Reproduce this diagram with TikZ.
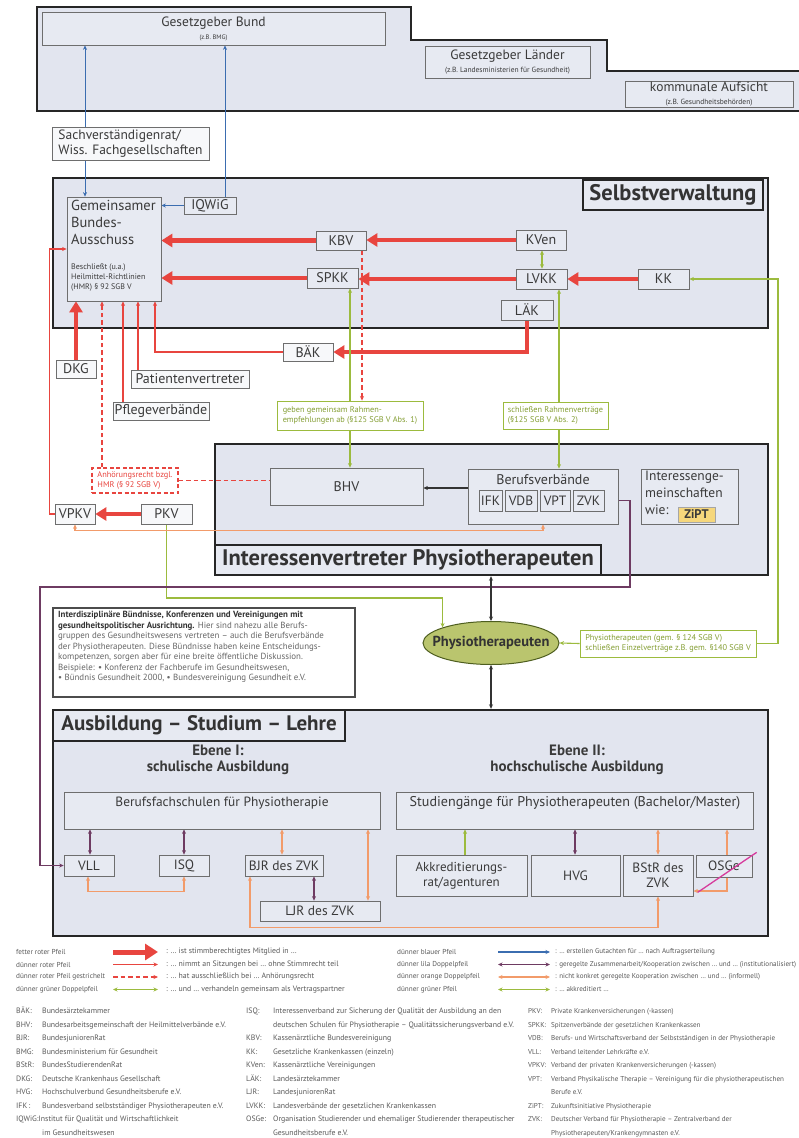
\documentclass[tikz,border=0pt]{standalone}
\usepackage{fontspec}
\setmainfont{PT Sans}
\usetikzlibrary{arrows.meta,shapes.geometric}
\definecolor{regfill}{HTML}{E2E5EF}
\definecolor{boxfill}{HTML}{E7EAF2}
\definecolor{boxline}{HTML}{6E6E6E}
\definecolor{txt}{HTML}{3A3A3A}
\definecolor{rd}{HTML}{E8453F}
\definecolor{gr}{HTML}{9CBB3E}
\definecolor{bl}{HTML}{3B6DB0}
\definecolor{pu}{HTML}{6E3B62}
\definecolor{og}{HTML}{F29B6A}
\definecolor{mg}{HTML}{D63B9C}
\definecolor{elfill}{HTML}{BAC56E}
\definecolor{yel}{HTML}{F6D77C}
\pgfdeclarelayer{bg}
\pgfdeclarelayer{ln}
\pgfsetlayers{bg,ln,main}
\newcommand{\fsz}[2]{\fontsize{#1}{#2}\selectfont}
\newcommand{\mkbox}[7][]{\node[#1,minimum width={(#5)-(#3)},minimum height={(#6)-(#4)}] (#2) at ({((#3)+(#5))/2},{((#4)+(#6))/2}) {#7};}
\tikzset{
 smt/.tip={Stealth[length=4.5pt,width=4pt]},
 bgt/.tip={Triangle[length=11pt,width=13pt]},
 region/.style={draw=black!85, line width=2.4pt, fill=regfill, inner sep=0pt},
 bx/.style={draw=boxline, line width=0.7pt, fill=boxfill, inner sep=0pt, align=center, font=\fsz{14}{16}, text=txt},
 obx/.style={bx, fill=white!65!boxfill},
 titlebox/.style={draw=black!85, line width=1.5pt, fill=boxfill, inner sep=0pt, font=\bfseries\fsz{22.5}{26}, text=black!80},
 grlab/.style={draw=gr, line width=0.9pt, fill=white, inner sep=0pt, align=left, font=\fsz{8.3}{9.3}, text=gr!85!black},
 plain/.style={inner sep=0pt, text=txt},
 redthick/.style={draw=rd, line width=4.6pt, -{bgt}},
 redthin/.style={draw=rd, line width=1.1pt, -{smt}},
 reddash/.style={draw=rd, line width=1.4pt, dash pattern=on 4.5pt off 3pt},
 bluear/.style={draw=bl, line width=1pt, -{smt}},
 garrow/.style={draw=gr, line width=1.1pt, -{smt}},
 gdbl/.style={draw=gr, line width=1.1pt, {smt}-{smt}},
 pdbl/.style={draw=pu, line width=1.3pt, {smt}-{smt}},
 odbl/.style={draw=og, line width=1.3pt, {smt}-{smt}},
 bkar/.style={draw=black!80, line width=1.1pt, -{smt}},
 bkdbl/.style={draw=black!80, line width=1.3pt, {smt}-{smt}},
 lg/.style={inner sep=0pt, font=\fsz{7.8}{9}, text=black!65},
 lgl/.style={lg, font=\fsz{7.2}{9}},
 lgr/.style={lg, font=\fsz{7.1}{9}},
 abk/.style={inner sep=0pt, anchor=north west, font=\fsz{7.8}{13.5}, text=black!65},
}
\begin{document}
\begin{tikzpicture}[x=1pt,y=-1pt]
\useasboundingbox (0,0) rectangle (798,1138);
\begin{pgfonlayer}{bg}
\fill[white] (0,0) rectangle (798,1138);
\draw[region] (37,7) -- (411,7) -- (411,40) -- (607,40) -- (607,71) -- (806,71) -- (806,111) -- (37,111) -- cycle;
\mkbox[region]{sv}{53}{178}{768}{328}{}
\mkbox[region]{iv}{215}{444}{768}{575}{}
\mkbox[region]{au}{53}{710}{768}{936}{}
\end{pgfonlayer}

% ---------- top
\mkbox[bx]{bund}{42}{12}{385}{45}{{\fsz{13.5}{14}Gesetzgeber Bund}\\[-3pt]{\fsz{6.5}{7}(z.B. BMG)}}
\mkbox[bx]{laender}{425}{46}{590}{78}{{\fsz{13.5}{14}Gesetzgeber Länder}\\[-3pt]{\fsz{7.5}{8}(z.B. Landesministerien für Gesundheit)}}
\mkbox[bx]{komm}{625}{81}{793}{107}{{\fsz{13.5}{14}kommunale Aufsicht}\\[-3pt]{\fsz{7.5}{8}(z.B. Gesundheitsbehörden)}}
\mkbox[obx,align=left,font=\fsz{13.5}{15}]{sachv}{52}{127}{209}{160}{Sachverständigenrat/\\Wiss. Fachgesellschaften}

% ---------- Selbstverwaltung
\mkbox[titlebox]{svt}{583}{180}{763}{210}{Selbstverwaltung}
\mkbox[bx]{gba}{67}{197}{161}{301}{}
\node[plain, anchor=north west, align=left, font=\fsz{14.5}{17}] (gbat) at (71,200) {Gemeinsamer\\Bundes-\\Ausschuss};
\node[plain, anchor=north west, align=left, font=\fsz{8}{10}] (gbas) at (71,264) {Beschließt (u.a.)\\Heilmittel-Richtlinien\\(HMR) § 92 SGB V};
\mkbox[bx]{iqwig}{184}{197}{236}{214}{IQWiG}
\mkbox[bx]{kbv}{316}{231}{366}{250}{KBV}
\mkbox[bx]{spkk}{307}{268}{358}{288}{SPKK}
\mkbox[bx]{kven}{516}{230}{566}{250}{KVen}
\mkbox[bx]{lvkk}{516}{269}{567}{289}{LVKK}
\mkbox[bx]{laek}{501}{300}{553}{320}{LÄK}
\mkbox[bx]{kk}{638}{269}{689}{289}{KK}

% ---------- between
\mkbox[obx]{baek}{283}{343}{333}{361}{BÄK}
\mkbox[obx]{dkg}{56}{360}{96}{378}{DKG}
\mkbox[obx]{patv}{131}{370}{249}{388}{Patientenvertreter}
\mkbox[obx]{pflege}{113}{402}{209}{420}{Pflegeverbände}
\mkbox[grlab]{grb1}{277}{401}{423}{430}{geben gemeinsam Rahmen-\\empfehlungen ab (§125 SGB V Abs. 1)}
\mkbox[grlab]{grb2}{503}{402}{608}{429}{schließen Rahmenverträge\\(§125 SGB V Abs. 2)}
\mkbox[grlab, draw=rd, text=rd, dash pattern=on 4pt off 2.5pt, line width=1.2pt]{anh}{92}{468}{178}{493}{Anhörungsrecht bzgl.\\HMR (§ 92 SGB V)}
\mkbox[obx]{vpkv}{55}{504}{95}{524}{VPKV}
\mkbox[obx]{pkv}{141}{504}{192}{524}{PKV}

% ---------- Interessenvertreter
\mkbox[titlebox]{ivt}{215}{545}{601}{575}{Interessenvertreter Physiotherapeuten}
\mkbox[bx]{bhv}{270}{468}{423}{505}{BHV}
\mkbox[bx]{bv}{468}{469}{618}{524}{}
\node[plain, font=\fsz{14}{15}] (bvt) at (543,480) {Berufsverbände};
\mkbox[bx,font=\fsz{13.5}{15}]{ifk}{479}{490}{502}{511}{IFK}
\mkbox[bx,font=\fsz{13.5}{15}]{vdb}{505}{490}{537}{511}{VDB}
\mkbox[bx,font=\fsz{13.5}{15}]{vpt}{540}{490}{570}{511}{VPT}
\mkbox[bx,font=\fsz{13.5}{15}]{zvk}{573}{490}{604}{511}{ZVK}
\mkbox[bx]{ig}{641}{469}{738}{524}{}
\node[plain, anchor=north west, align=left, font=\fsz{13.5}{17}] (igt) at (645,471) {Interessenge-\\meinschaften\\wie:};
\mkbox[bx, fill=yel, draw=black!35, font=\bfseries\fsz{12.5}{14}]{zipt}{678}{507}{715}{522}{ZiPT}

% ---------- Buendnisse & Physiotherapeuten
\mkbox[bx, fill=white, draw=black!70, line width=1.4pt]{buend}{53}{608}{355}{697}{}
\node[plain, anchor=north west, align=left, font=\fsz{8.9}{10.5}, text=black!60] (buendt) at (58,611) {{\color{black!80}\bfseries Interdisziplinäre Bündnisse, Konferenzen und Vereinigungen mit}\\{\color{black!80}\bfseries gesundheitspolitischer Ausrichtung.} Hier sind nahezu alle Berufs-\\gruppen des Gesundheitswesens vertreten – auch die Berufsverbände\\der Physiotherapeuten. Diese Bündnisse haben keine Entscheidungs-\\kompetenzen, sorgen aber für eine breite öffentliche Diskussion.\\Beispiele: • Konferenz der Fachberufe im Gesundheitswesen,\\• Bündnis Gesundheit 2000, • Bundesvereinigung Gesundheit e.V.};
\node[ellipse, draw=black!50!gr, line width=1pt, fill=elfill, minimum width=136, minimum height=43, inner sep=0pt] (physio) at (491,643) {};
\node[plain, font=\bfseries\fsz{14.5}{16}, text=black!80] (physiot) at (physio.center) {Physiotherapeuten};
\mkbox[grlab]{grb3}{580}{630}{756}{657}{Physiotherapeuten (gem. § 124 SGB V)\\schließen Einzelverträge z.B. gem. §140 SGB V}

% ---------- Ausbildung
\mkbox[titlebox, font=\bfseries\fsz{21}{24}]{aut}{53}{710}{345}{741}{Ausbildung – Studium – Lehre}
\node[plain, align=center, font=\bfseries\fsz{15}{15.5}] (eb1) at (218,760) {Ebene I:\\schulische Ausbildung};
\node[plain, align=center, font=\bfseries\fsz{15}{15.5}] (eb2) at (577,760) {Ebene II:\\hochschulische Ausbildung};
\mkbox[bx]{bfs}{64}{792}{380}{829}{}
\node[plain, font=\fsz{13.4}{14}] (bfst) at (222,803) {Berufsfachschulen für Physiotherapie};
\mkbox[bx]{stud}{396}{792}{753}{829}{}
\node[plain, font=\fsz{14.1}{15}] (studt) at (575,803) {Studiengänge für Physiotherapeuten (Bachelor/Master)};
\mkbox[bx,font=\fsz{13.5}{15}]{vll}{64}{855}{114}{876}{VLL}
\mkbox[bx,font=\fsz{13.5}{15}]{isq}{159}{855}{209}{876}{ISQ}
\mkbox[bx,font=\fsz{13.5}{15}]{bjr}{245}{855}{323}{876}{BJR des ZVK}
\mkbox[bx,font=\fsz{13.5}{15}]{ljr}{260}{901}{380}{921}{LJR des ZVK}
\mkbox[bx,font=\fsz{13}{15.5}]{akk}{396}{855}{527}{896}{Akkreditierungs-\\rat/agenturen}
\mkbox[bx,font=\fsz{13.5}{15}]{hvg}{531}{855}{620}{896}{HVG}
\mkbox[bx,font=\fsz{13.5}{15.5}]{bstr}{623}{855}{693}{896}{BStR des\\ZVK}
\mkbox[bx,font=\fsz{13.5}{15}]{osge}{696}{855}{752}{877}{OSGe}

% ---------- connectors
\begin{pgfonlayer}{ln}
\draw[bluear] (sachv.north -| 85,0) -- (bund.south -| 85,0);
\draw[bluear] (sachv.south -| 85,0) -- (gba.north -| 85,0);
\draw[bluear] (iqwig.north -| 225,0) -- (bund.south -| 225,0);
\draw[bluear] (iqwig.west) -- (gba.east |- iqwig.west);
\draw[redthick] (kven.west) -- (kbv.east |- kven.west);
\draw[redthick] (kbv.west) -- (gba.east |- kbv.west);
\draw[redthick] (lvkk.west) -- (spkk.east |- lvkk.west);
\draw[redthick] (spkk.west) -- (gba.east |- spkk.west);
\draw[redthick] (kk.west) -- (lvkk.east |- kk.west);
\draw[redthick] (laek.south) |- (baek.east);
\draw[redthick] (dkg.north) -- (gba.south -| dkg.north);
\draw[redthick] (pkv.west) -- (vpkv.east |- pkv.west);
\draw[redthin] (pflege.north -| 123,0) -- (gba.south -| 123,0);
\draw[redthin] (patv.north -| 138,0) -- (gba.south -| 138,0);
\draw[redthin] (baek.west) -| (gba.south -| 155,0);
\draw[redthin] (vpkv.west) -- ++(-5,0) |- (gba.west |- 0,249);
\draw[reddash, -{smt}] (anh.north -| 102,0) -- (gba.south -| 102,0);
\draw[reddash] (anh.east) -- (bhv.west |- anh.east);
\draw[reddash, -{smt}] (kbv.south -| 362,0) -- (grb1.north -| 362,0);
\draw[gdbl] (kven.south -| 542,0) -- (lvkk.north -| 542,0);
\draw[garrow] (grb1.north -| 350,0) -- (spkk.south -| 350,0);
\draw[garrow] (grb1.south -| 350,0) -- (bhv.north -| 350,0);
\draw[garrow] (grb2.north -| 559,0) -- (lvkk.south -| 559,0);
\draw[garrow] (grb2.south -| 559,0) -- (bv.north -| 559,0);
\draw[garrow] (grb3.east) -- (grb3.east -| 778,0) |- (kk.east);
\draw[garrow] (grb3.west) -- (physio.east);
\draw[garrow] (pkv.south) |- (physio.north west |- 0,598) -- (physio.north west);
\draw[bkar] (bv.west |- 0,488) -- (bhv.east |- 0,488);
\draw[odbl] (vpkv.south) -- ++(0,6) -| (bv.south -| 543,0);
\draw[pdbl] (zvk.east) -| (630,587) -| (vll.west -| 40,0) -- (vll.west);
\draw[bkdbl] (iv.south -| physio.north) -- (physio.north);
\draw[bkdbl] (physio.south) -- (au.north -| physio.south);
\draw[pdbl] (bfs.south -| 90,0) -- (vll.north -| 90,0);
\draw[pdbl] (bfs.south -| 184,0) -- (isq.north -| 184,0);
\draw[odbl] (bfs.south -| 282,0) -- (bjr.north -| 282,0);
\draw[odbl] (bfs.south -| 368,0) -- (ljr.north -| 368,0);
\draw[pdbl] (bjr.south -| 314,0) -- (ljr.north -| 314,0);
\draw[odbl] (vll.south -| 88,0) -- ++(0,15) -| (isq.south -| 184,0);
\draw[odbl] (bjr.south -| 250,0) -- ++(0,51) -| (bstr.south);
\draw[garrow] (akk.north -| 465,0) -- (stud.south -| 465,0);
\draw[pdbl] (stud.south -| 575,0) -- (hvg.north -| 575,0);
\draw[odbl] (stud.south -| 658,0) -- (bstr.north -| 658,0);
\draw[odbl] (stud.south -| 727,0) |- (bstr.east |- 0,891);
\end{pgfonlayer}
\draw[mg, line width=1.3pt] (osge.south west) ++(2,15) -- ++(59,-40);

% ---------- legend
\node[lgl, anchor=west] (ll1) at (16,952) {fetter roter Pfeil};
\node[lgl, anchor=west] (ll2) at (16,964.5) {dünner roter Pfeil};
\node[lgl, anchor=west] (ll3) at (16,977) {dünner roter Pfeil gestrichelt};
\node[lgl, anchor=west] (ll4) at (16,989.5) {dünner grüner Doppelpfeil};
\node[lg, anchor=west] (lt1) at (166,952) {: … ist stimmberechtigtes Mitglied in …};
\node[lg, anchor=west] (lt2) at (166,964.5) {: … nimmt an Sitzungen bei … ohne Stimmrecht teil};
\node[lg, anchor=west] (lt3) at (166,977) {: … hat ausschließlich bei … Anhörungsrecht};
\node[lg, anchor=west] (lt4) at (166,989.5) {: … und … verhandeln gemeinsam als Vertragspartner};
\coordinate (la1) at (113,952);
\coordinate (la2) at (113,964.5);
\coordinate (la3) at (113,977);
\coordinate (la4) at (113,989.5);
\draw[draw=rd, line width=5pt, -{Triangle[length=13pt,width=16pt]}] (la1) -- ([xshift=-8pt]lt1.west);
\draw[redthin] (la2) -- ([xshift=-8pt]lt2.west);
\draw[reddash, -{smt}] (la3) -- ([xshift=-8pt]lt3.west);
\draw[gdbl] (la4) -- ([xshift=-8pt]lt4.west);
\node[lgl, anchor=west] (rl1) at (397,952) {dünner blauer Pfeil};
\node[lgl, anchor=west] (rl2) at (397,964.5) {dünner lila Doppelpfeil};
\node[lgl, anchor=west] (rl3) at (397,977) {dünner orange Doppelpfeil};
\node[lgl, anchor=west] (rl4) at (397,989.5) {dünner grüner Pfeil};
\node[lgr, anchor=west] (rt1) at (555,952) {: … erstellen Gutachten für … nach Auftragserteilung};
\node[lgr, anchor=west] (rt2) at (555,964.5) {: geregelte Zusammenarbeit/Kooperation zwischen … und … (institutionalisiert)};
\node[lgr, anchor=west] (rt3) at (555,977) {: nicht konkret geregelte Kooperation zwischen … und … (informell)};
\node[lgr, anchor=west] (rt4) at (555,989.5) {: … akkreditiert …};
\coordinate (ra1) at (498,952);
\coordinate (ra2) at (498,964.5);
\coordinate (ra3) at (498,977);
\coordinate (ra4) at (498,989.5);
\draw[bluear, line width=1.3pt] (ra1) -- ([xshift=-5pt]rt1.west);
\draw[pdbl, line width=1.8pt] (ra2) -- ([xshift=-5pt]rt2.west);
\draw[odbl, line width=1.6pt] (ra3) -- ([xshift=-5pt]rt3.west);
\draw[gdbl, line width=1.4pt] (ra4) -- ([xshift=-5pt]rt4.west);

% ---------- abbreviations
\node[abk] (abk1) at (16,1004) {\begin{tabular}{@{}p{26pt}@{}l@{}}
BÄK: & Bundesärztekammer\\
BHV: & Bundesarbeitsgemeinschaft der Heilmittelverbände e.V.\\
BJR: & BundesjuniorenRat\\
BMG: & Bundesministerium für Gesundheit\\
BStR: & BundesStudierendenRat\\
DKG: & Deutsche Krankenhaus Gesellschaft\\
HVG: & Hochschulverbund Gesundheitsberufe e.V.\\
IFK\,: & Bundesverband selbstständiger Physiotherapeuten e.V.\\
\multicolumn{2}{@{}l@{}}{IQWiG:Institut für Qualität und Wirtschaftlichkeit}\\
 & im Gesundheitswesen
\end{tabular}};
\node[abk] (abk2) at (246,1004) {\begin{tabular}{@{}p{27pt}@{}l@{}}
ISQ: & Interessenverband zur Sicherung der Qualität der Ausbildung an den\\
 & deutschen Schulen für Physiotherapie – Qualitätssicherungsverband e.V.\\
KBV: & Kassenärztliche Bundesvereinigung\\
KK: & Gesetzliche Krankenkassen (einzeln)\\
KVen: & Kassenärztliche Vereinigungen\\
LÄK: & Landesärztekammer\\
LJR: & LandesjuniorenRat\\
LVKK: & Landesverbände der gesetzlichen Krankenkassen\\
OSGe: & Organisation Studierender und ehemaliger Studierender therapeutischer\\
 & Gesundheitsberufe e.V.
\end{tabular}};
\node[abk, font=\fsz{7.1}{13.5}] (abk3) at (528,1004) {\begin{tabular}{@{}p{23pt}@{}l@{}}
PKV: & Private Krankenversicherungen (-kassen)\\
SPKK: & Spitzenverbände der gesetzlichen Krankenkassen\\
VDB: & Berufs- und Wirtschaftsverband der Selbstständigen in der Physiotherapie\\
VLL: & Verband leitender Lehrkräfte e.V.\\
VPKV: & Verband der privaten Krankenversicherungen (-kassen)\\
VPT: & Verband Physikalische Therapie – Vereinigung für die physiotherapeutischen\\
 & Berufe e.V.\\
ZiPT: & Zukunftsinitiative Physiotherapie\\
ZVK: & Deutscher Verband für Physiotherapie – Zentralverband der\\
 & Physiotherapeuten/Krankengymnasten e.V.
\end{tabular}};
\end{tikzpicture}
\end{document}
